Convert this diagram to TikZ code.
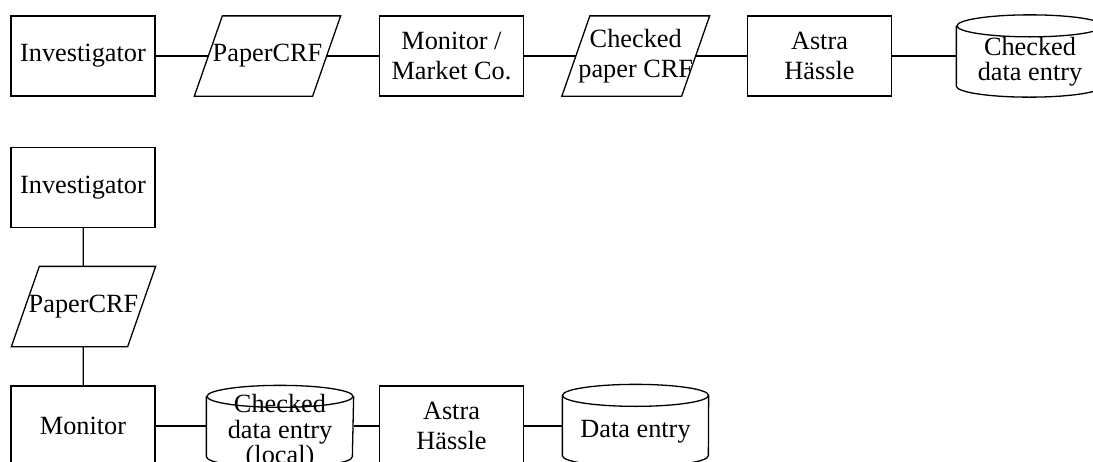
\documentclass[tikz,border=0pt]{standalone}
\usepackage{fontspec}
\setmainfont{Liberation Serif}
\usetikzlibrary{calc}
\newcommand{\cylshape}[1]{%
  \draw ([yshift=-11pt]#1.north) ellipse [x radius=73pt, y radius=11pt];
  \draw ([yshift=-11pt]#1.north west) -- ([yshift=11pt]#1.south west)
    arc[start angle=180, end angle=360, x radius=73pt, y radius=11pt]
    -- ([yshift=-11pt]#1.north east);}
\newcommand{\parashape}[1]{%
  \draw ([xshift=14pt]#1.north west) -- ([xshift=14pt]#1.north east)
    -- ([xshift=-14pt]#1.south east) -- ([xshift=-14pt]#1.south west) -- cycle;}
\begin{document}
\begin{tikzpicture}[x=1pt,y=-1pt,line width=1.3pt,
  every node/.style={inner sep=0pt, align=center, font=\fontsize{26.3}{30}\selectfont},
  boxnode/.style={draw, minimum width=144pt, minimum height=80pt},
  paranode/.style={minimum width=117pt, minimum height=79pt},
  cylnode/.style={minimum width=146pt, minimum height=81pt},
  cyltext/.style={font=\fontsize{26.3}{25.5}\selectfont},
  link/.style={line width=1.3pt}]
\useasboundingbox (0,0) rectangle (1093,461);
\fill[white] (0,0) rectangle (1093,461);
\clip (0,0) rectangle (1093,461);
% top row
\node[boxnode] (i1) at (83,56) {Investigator};
\node[paranode] (p1) at (267.5,56) {PaperCRF};
\parashape{p1}
\node[boxnode] (m1) at (451.5,56) {Monitor /\\Market Co.};
\node[paranode, minimum width=118.5pt] (p2) at (635.75,56) {Checked\\paper CRF};
\parashape{p2}
\node[boxnode] (a1) at (819.5,56) {Astra\\Hässle};
\node[cylnode] (c1) at (1030,56) {};
\cylshape{c1}
\node[cyltext] (c1t) at (1030,61.5) {Checked\\data entry};
\draw[link] (i1) -- (p1);
\draw[link] (p1) -- (m1);
\draw[link] (m1) -- (p2);
\draw[link] (p2) -- (a1);
\draw[link] (a1) -- (c1);
% bottom
\node[boxnode] (i2) at (83,187.5) {Investigator};
\node[paranode, minimum width=115pt] (p3) at (83.5,306.5) {PaperCRF};
\parashape{p3}
\node[boxnode] (m2) at (83,426) {Monitor};
\node[cylnode] (c2) at (280,426.5) {};
\cylshape{c2}
\node[cyltext] (c2t) at (280,432) {Checked\\data entry\\(local)};
\node[boxnode] (a2) at (451.5,426) {Astra\\Hässle};
\node[cylnode, minimum width=145pt] (c3) at (635.5,425.5) {};
\cylshape{c3}
\node[cyltext] (c3t) at (635.5,432) {Data entry};
\draw[link] (i2) -- (p3);
\draw[link] (p3) -- (m2);
\draw[link] (m2.east) -- (m2.east -| c2.west);
\draw[link] (c2.east |- a2.west) -- (a2.west);
\draw[link] (a2.east) -- (a2.east -| c3.west);
\end{tikzpicture}
\end{document}
